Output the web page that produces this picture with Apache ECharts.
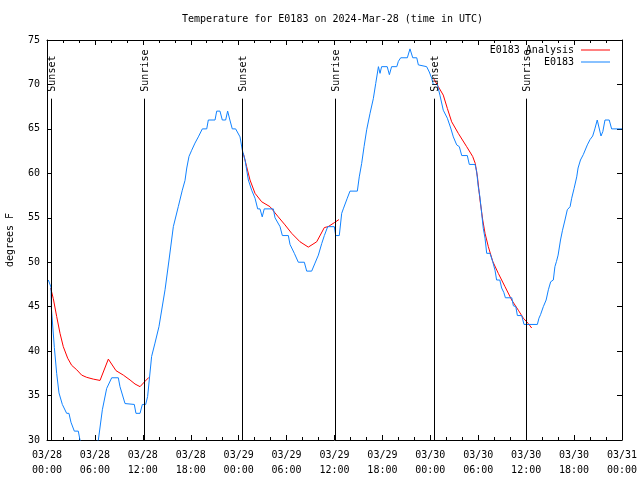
<!DOCTYPE html>
<html>
<head>
<meta charset="utf-8">
<script src="https://cdn.jsdelivr.net/npm/echarts@6/dist/echarts.min.js"></script>
<style>html,body{margin:0;padding:0;background:#fff}#c{width:640px;height:480px}</style>
</head>
<body>
<div id="c"></div>
<script>
// ---- data (x in hours since 03/28 00:00 UTC) ----
const xTickLabels = ['03/28\n00:00','03/28\n06:00','03/28\n12:00','03/28\n18:00','03/29\n00:00','03/29\n06:00','03/29\n12:00','03/29\n18:00','03/30\n00:00','03/30\n06:00','03/30\n12:00','03/30\n18:00','03/31\n00:00'];

const obsHours = [0.17,0.5,0.55,0.92,1.21,1.5,1.92,2.17,2.46,2.75,3.0,3.42,3.92,4.13,5.2,6.43,6.93,7.47,7.68,8.1,8.93,9.14,9.77,9.98,10.93,11.14,11.65,11.94,12.36,12.6,13.1,13.52,14.02,14.78,15.28,15.82,16.44,16.94,17.28,17.5,17.78,18.12,18.53,18.95,19.45,20.0,20.2,21.04,21.25,21.66,21.95,22.37,22.62,22.9,23.2,23.62,24.17,24.46,24.8,25.21,25.63,26.05,26.38,26.67,26.95,27.2,28.34,28.55,29.18,29.47,30.22,30.43,30.97,31.47,32.22,32.52,33.14,33.56,33.98,34.4,34.73,35.15,35.98,36.15,36.6,36.9,37.1,37.6,37.94,38.86,39.1,39.4,39.7,40.03,40.45,40.86,41.16,41.5,41.7,41.9,42.6,42.87,43.15,43.8,44.0,44.29,45.12,45.45,45.8,46.3,46.5,46.7,47.54,47.87,48.17,48.37,48.87,49.2,49.62,50.13,50.55,50.88,51.3,51.63,51.93,52.63,52.88,53.6,53.8,54.0,54.2,54.43,54.63,54.85,55.06,55.47,55.8,56.1,56.3,56.7,56.93,57.2,57.4,58.2,58.4,58.7,58.9,59.44,59.73,61.4,61.6,61.8,62.15,62.5,62.78,63.07,63.4,63.6,63.8,64.0,64.3,64.55,64.86,65.15,65.5,65.7,66.0,66.33,66.5,66.8,67.15,67.4,67.66,68.0,68.33,68.6,68.9,69.15,69.37,69.6,69.87,70.4,70.7,72];
const obsTemps = [48,47.2,44.8,40.4,37.5,35.3,34,34,33,33,32,31,31,30,28.5,30,33.4,35.8,36,37,37,36,34.1,34,34,33,33,34,34,34.9,39.4,40.9,42.75,46.9,50.25,54,56.25,58.1,59.2,60.6,61.9,62.6,63.4,64.1,65,65,66,66,67,67,66,66,67,66,65,65,64.1,62.6,61.5,59.25,58.1,57.2,56,56,55.1,56,56,55,54,53,53,52,51,50,50,49,49,49.9,50.8,52.1,53,54,54,53,53,55.5,56,57.2,58,58,59.6,61.1,63,64.9,66.75,68.4,70.1,72,71.25,72,72,71.1,72,72,72.6,73,73,74,73,73,72.2,72,72,71.4,70.7,70,70,68.8,67.1,66.2,65.1,64.1,63.2,63,62,62,61,61,60.2,58.5,57.4,55.5,53.8,52.7,51,51,50.1,49.1,48,48,47.1,46.6,46,46,45.1,45,44,44,43,43,43.7,44.1,45,45.75,46.9,47.8,48,49.5,50.1,50.8,52.5,53.6,54.75,55.9,56.25,57.2,58.3,59.6,60.6,61.5,62.1,62.3,63.2,63.8,64.2,65,66,66,64.2,64.7,66,66,65,65];

const ana1Hours = [0.46,0.79,1.21,1.63,2.04,2.59,3.09,3.72,4.34,4.97,5.8,6.64,7.68,8.64,9.56,10.4,11.02,11.65,12.27,12.77];
const ana1Temps = [47.1,45.9,43.9,42,40.5,39.2,38.4,37.9,37.3,37.05,36.85,36.7,39.1,37.8,37.3,36.75,36.3,36,36.6,37.05];
const ana2Hours = [24.58,25.0,25.42,26.05,26.88,27.92,28.96,29.8,30.64,31.68,32.72,33.77,34.73,35.2,35.98,36.56];
const ana2Temps = [62.25,60.75,59.25,57.75,56.8,56.25,55.1,54.2,53.25,52.3,51.7,52.3,53.9,54,54.45,54.8];
const ana3Hours = [48.46,49.0,49.62,50.13,50.67,51.5,52.55,53.3,53.63,53.9,54.22,54.56,54.85,55.26,55.81,56.51,57.35,58.19,59.02,59.65,60.27,60.69];
const ana3Temps = [70.6,69.75,68.8,67.3,65.8,64.5,63,61.9,61.1,59.6,57,54.75,53.25,51.75,50.1,48.75,47.25,45.75,44.6,43.7,43.1,42.6];

const sunHours = [0.54,12.19,24.46,36.1,48.5,59.98];
const sunLabels = ['Sunset','Sunrise','Sunset','Sunrise','Sunset','Sunrise'];
const sunLineTop = 68.4;

// ---- chart ----
const FONT = '"DejaVu Sans Mono", monospace';
const zip = (a, b) => a.map((v, i) => [v, b[i]]);
const chart = echarts.init(document.getElementById('c'), null, {renderer: 'canvas'});

const xCommon = {
  type: 'value', min: 0, max: 72, interval: 6,
  axisLine: {show: true, onZero: false, lineStyle: {color: '#000', width: 1}},
  axisTick: {show: true, inside: true, length: 5, lineStyle: {color: '#000'}},
  minorTick: {show: true, splitNumber: 3, length: 3, lineStyle: {color: '#000'}},
  splitLine: {show: false}, minorSplitLine: {show: false}
};
const yCommon = {
  type: 'value', min: 30, max: 75, interval: 5,
  axisLine: {show: true, onZero: false, lineStyle: {color: '#000', width: 1}},
  axisTick: {show: true, inside: true, length: 5, lineStyle: {color: '#000'}},
  splitLine: {show: false}
};

const anaStyle = {
  type: 'line', name: 'E0183 Analysis', showSymbol: false, symbol: 'none',
  lineStyle: {color: '#ff0000', width: 1}, itemStyle: {color: '#ff0000'},
  animation: false, z: 2
};

const legendCommon = {
  orient: 'vertical', align: 'right', right: 30, padding: 0,
  icon: 'rect', itemWidth: 29, itemHeight: 1,
  textStyle: {fontFamily: FONT, fontSize: 10, color: '#000', padding: [0, 2, 0, 0]},
  selectedMode: false
};

chart.setOption({
  animation: false,
  backgroundColor: '#fff',
  title: {
    text: 'Temperature for E0183 on 2024-Mar-28 (time in UTC)',
    left: 182, top: 14, padding: 0,
    textStyle: {fontFamily: FONT, fontSize: 10, fontWeight: 'normal', color: '#000'}
  },
  legend: [
    Object.assign({}, legendCommon, {data: ['E0183 Analysis'], top: 45}),
    Object.assign({}, legendCommon, {data: ['E0183'], top: 57})
  ],
  grid: {left: 47, right: 18, top: 40, bottom: 40, containLabel: false, outerBoundsMode: 'none'},
  xAxis: [
    Object.assign({}, xCommon, {
      position: 'bottom',
      axisLabel: {
        show: true, margin: 8, lineHeight: 15,
        fontFamily: FONT, fontSize: 10, color: '#000',
        formatter: v => xTickLabels[Math.round(v / 6)]
      }
    }),
    Object.assign({}, xCommon, {position: 'top', axisLabel: {show: false}})
  ],
  yAxis: [
    Object.assign({}, yCommon, {
      position: 'left',
      name: 'degrees F', nameLocation: 'middle', nameRotate: 90, nameGap: 32,
      nameTextStyle: {fontFamily: FONT, fontSize: 10, color: '#000'},
      axisLabel: {show: true, margin: 7, fontFamily: FONT, fontSize: 10, color: '#000'}
    }),
    Object.assign({}, yCommon, {position: 'right', axisLabel: {show: false}})
  ],
  series: [
    Object.assign({}, anaStyle, {data: zip(ana1Hours, ana1Temps)}),
    Object.assign({}, anaStyle, {data: zip(ana2Hours, ana2Temps)}),
    Object.assign({}, anaStyle, {data: zip(ana3Hours, ana3Temps)}),
    {
      type: 'line', name: 'E0183', showSymbol: false, symbol: 'none',
      data: zip(obsHours, obsTemps),
      lineStyle: {color: '#1082ff', width: 1}, itemStyle: {color: '#1082ff'},
      clip: true, z: 3
    },
    {
      type: 'custom', name: 'sun', silent: true, z: 4,
      data: sunHours.map((h, i) => [h, i]),
      renderItem: function (params, api) {
        const t = api.value(0);
        const p0 = api.coord([t, 30]);
        const p1 = api.coord([t, sunLineTop]);
        const x = Math.round(p0[0]) + 0.5;
        return {
          type: 'group',
          children: [
            {type: 'line', shape: {x1: x, y1: p0[1], x2: x, y2: p1[1]},
             style: {stroke: '#000', lineWidth: 1}},
            {type: 'text', x: x + 1, y: p1[1] - 7, rotation: Math.PI / 2,
             style: {text: sunLabels[params.dataIndex], fill: '#000',
                     font: '10px ' + FONT, align: 'left', verticalAlign: 'middle'}}
          ]
        };
      }
    }
  ]
});
</script>
</body>
</html>
